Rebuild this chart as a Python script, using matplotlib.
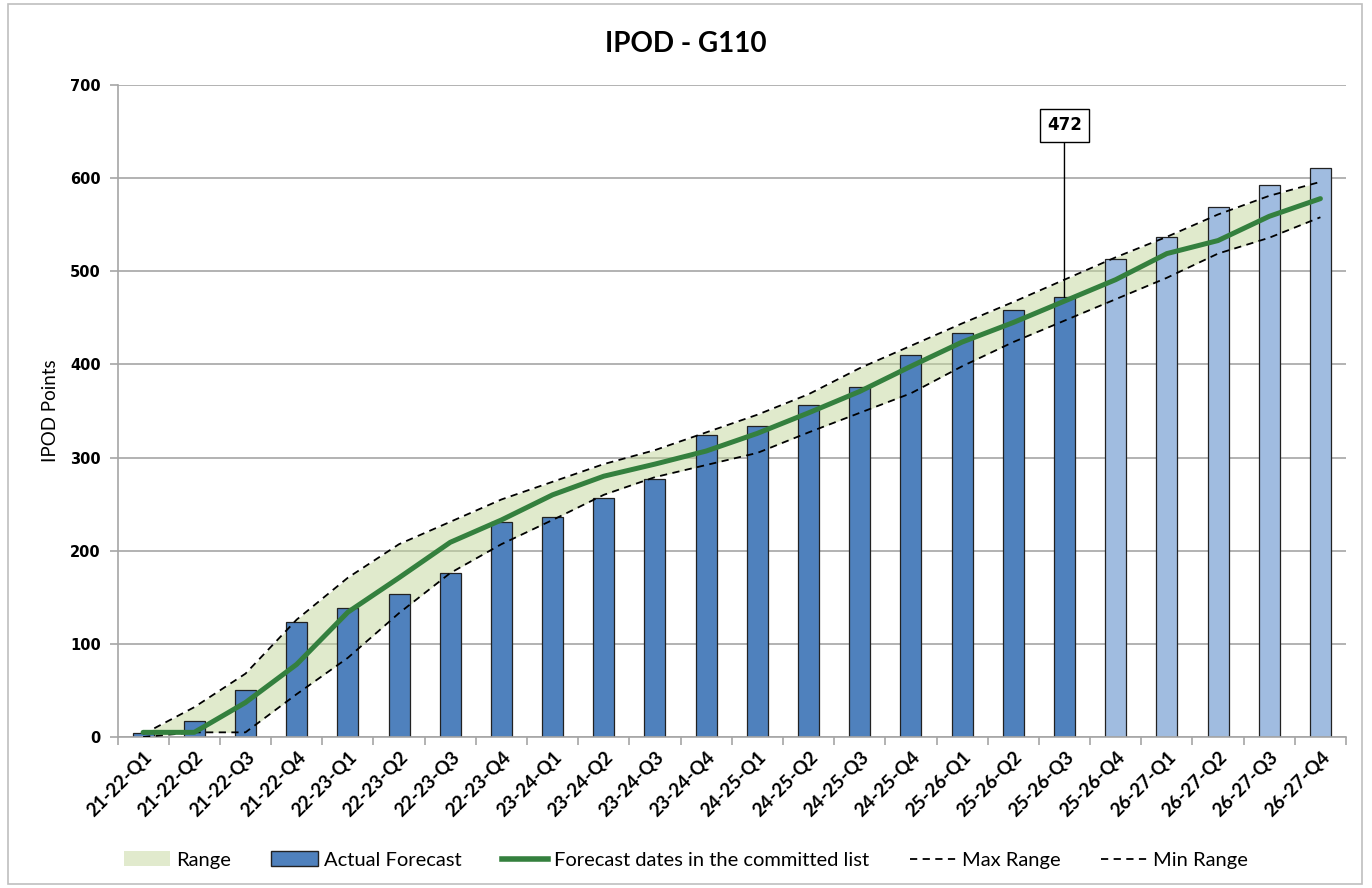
import matplotlib
matplotlib.use("Agg")
import matplotlib.pyplot as plt
from matplotlib.patches import Rectangle, Patch
from matplotlib.lines import Line2D
import numpy as np

categories = ["21-22-Q1", "21-22-Q2", "21-22-Q3", "21-22-Q4",
              "22-23-Q1", "22-23-Q2", "22-23-Q3", "22-23-Q4",
              "23-24-Q1", "23-24-Q2", "23-24-Q3", "23-24-Q4",
              "24-25-Q1", "24-25-Q2", "24-25-Q3", "24-25-Q4",
              "25-26-Q1", "25-26-Q2", "25-26-Q3", "25-26-Q4",
              "26-27-Q1", "26-27-Q2", "26-27-Q3", "26-27-Q4"]

actual_forecast = [4, 17, 50, 123, 139, 154, 176, 231, 236, 257, 277, 324,
                   334, 356, 376, 410, 434, 458, 472, 513, 537, 569, 593, 611]
committed_forecast = [5, 5, 37, 78, 134, 171, 209, 233, 260, 280, 293, 307,
                      326, 348, 371, 398, 424, 445, 468, 491, 519, 533, 559, 578]
max_range = [3, 32, 68, 126, 171, 207, 231, 255, 274, 293, 308, 327,
             346, 368, 396, 420, 444, 467, 491, 515, 537, 561, 581, 596]
min_range = [0, 5, 5, 46, 85, 133, 176, 207, 233, 260, 279, 292,
             305, 327, 348, 369, 398, 424, 447, 470, 493, 519, 536, 558]
n_actual = 19  # bars up to 25-26-Q3 are actuals (dark), rest are forecasts (light)
annot_index = 18
y_ticks = [0, 100, 200, 300, 400, 500, 600, 700]

W, H = 1372, 888
fig = plt.figure(figsize=(W / 100, H / 100), dpi=100)
fig.patch.set_facecolor("white")

# outer chart border
fig.add_artist(Rectangle((8 / W, 4 / H), (1362 - 8) / W, (884 - 4) / H,
                         transform=fig.transFigure, fill=False,
                         edgecolor="#BFBFBF", linewidth=1.2))

ax = fig.add_axes([117.5 / W, 1 - 737 / H, (1346 - 117.5) / W, (737 - 85) / H])
x = np.arange(len(categories))

fill_color = "#C3D69B"
ax.fill_between(x, min_range, max_range, color=fill_color, alpha=0.5,
                linewidth=0, zorder=1)

bar_colors = ["#4F81BD"] * n_actual + ["#A0BCE0"] * (len(categories) - n_actual)
ax.bar(x, actual_forecast, width=0.41, color=bar_colors, edgecolor="#222222",
       linewidth=0.9, zorder=2)

ax.plot(x, max_range, color="black", linestyle=(0, (4, 3)), linewidth=1.3, zorder=3)
ax.plot(x, min_range, color="black", linestyle=(0, (4, 3)), linewidth=1.3, zorder=3)
ax.plot(x, committed_forecast, color="#34803E", linewidth=3.6, zorder=4,
        solid_capstyle="round", solid_joinstyle="round")

ax.annotate(str(actual_forecast[annot_index]),
            xy=(annot_index, actual_forecast[annot_index]),
            xytext=(annot_index, 657), textcoords="data",
            ha="center", va="center", fontsize=12, fontweight="bold",
            family="DejaVu Sans",
            bbox=dict(boxstyle="square,pad=0.45", facecolor="white",
                      edgecolor="black", linewidth=1.0),
            arrowprops=dict(arrowstyle="-", color="black", linewidth=1.0,
                            shrinkA=0, shrinkB=0),
            zorder=6)

ax.set_xlim(-0.5, len(categories) - 0.5)
ax.set_ylim(0, 700)
ax.set_yticks(y_ticks)
ax.set_yticklabels([str(v) for v in y_ticks], fontsize=10.5, fontweight="bold",
                   family="DejaVu Sans")
ax.yaxis.grid(True, color="#A6A6A6", linewidth=1.2)
ax.set_axisbelow(True)

ax.set_xticks(np.arange(-0.5, len(categories), 1.0))
ax.set_xticklabels([])
ax.set_xticks(x, minor=True)
ax.set_xticklabels(categories, minor=True, rotation=45, ha="right",
                   rotation_mode="anchor", fontsize=13.5, fontweight="bold",
                   family="Lato")
ax.tick_params(axis="x", which="minor", length=0, pad=8)
ax.tick_params(axis="x", which="major", length=6, color="#A6A6A6", width=1.2)
ax.tick_params(axis="y", length=6, color="#A6A6A6", width=1.2, pad=6)

for side in ["top", "right"]:
    ax.spines[side].set_visible(False)
for side in ["left", "bottom"]:
    ax.spines[side].set_color("#A6A6A6")
    ax.spines[side].set_linewidth(1.2)

ax.set_ylabel("IPOD Points", fontsize=13.5, family="Lato", labelpad=8)

fig.text(0.5, 1 - 44 / H, "IPOD - G110", ha="center", va="center",
         fontsize=20, fontweight="bold", family="Lato")

handles = [
    Patch(facecolor="#E1EACD", edgecolor="none", label="Range"),
    Patch(facecolor="#4F81BD", edgecolor="#222222", label="Actual Forecast"),
    Line2D([], [], color="#34803E", linewidth=4, label="Forecast dates in the committed list"),
    Line2D([], [], color="black", linestyle=(0, (4, 3)), linewidth=1.3, label="Max Range"),
    Line2D([], [], color="black", linestyle=(0, (4, 3)), linewidth=1.3, label="Min Range"),
]
fig.legend(handles=handles, loc="center", bbox_to_anchor=(0.5, 1 - 860 / H),
           ncol=5, frameon=False, prop={"family": "Lato", "size": 14.5},
           handlelength=2.3, columnspacing=2.0, handletextpad=0.3)

fig.savefig("out.png", dpi=100, facecolor="white")
